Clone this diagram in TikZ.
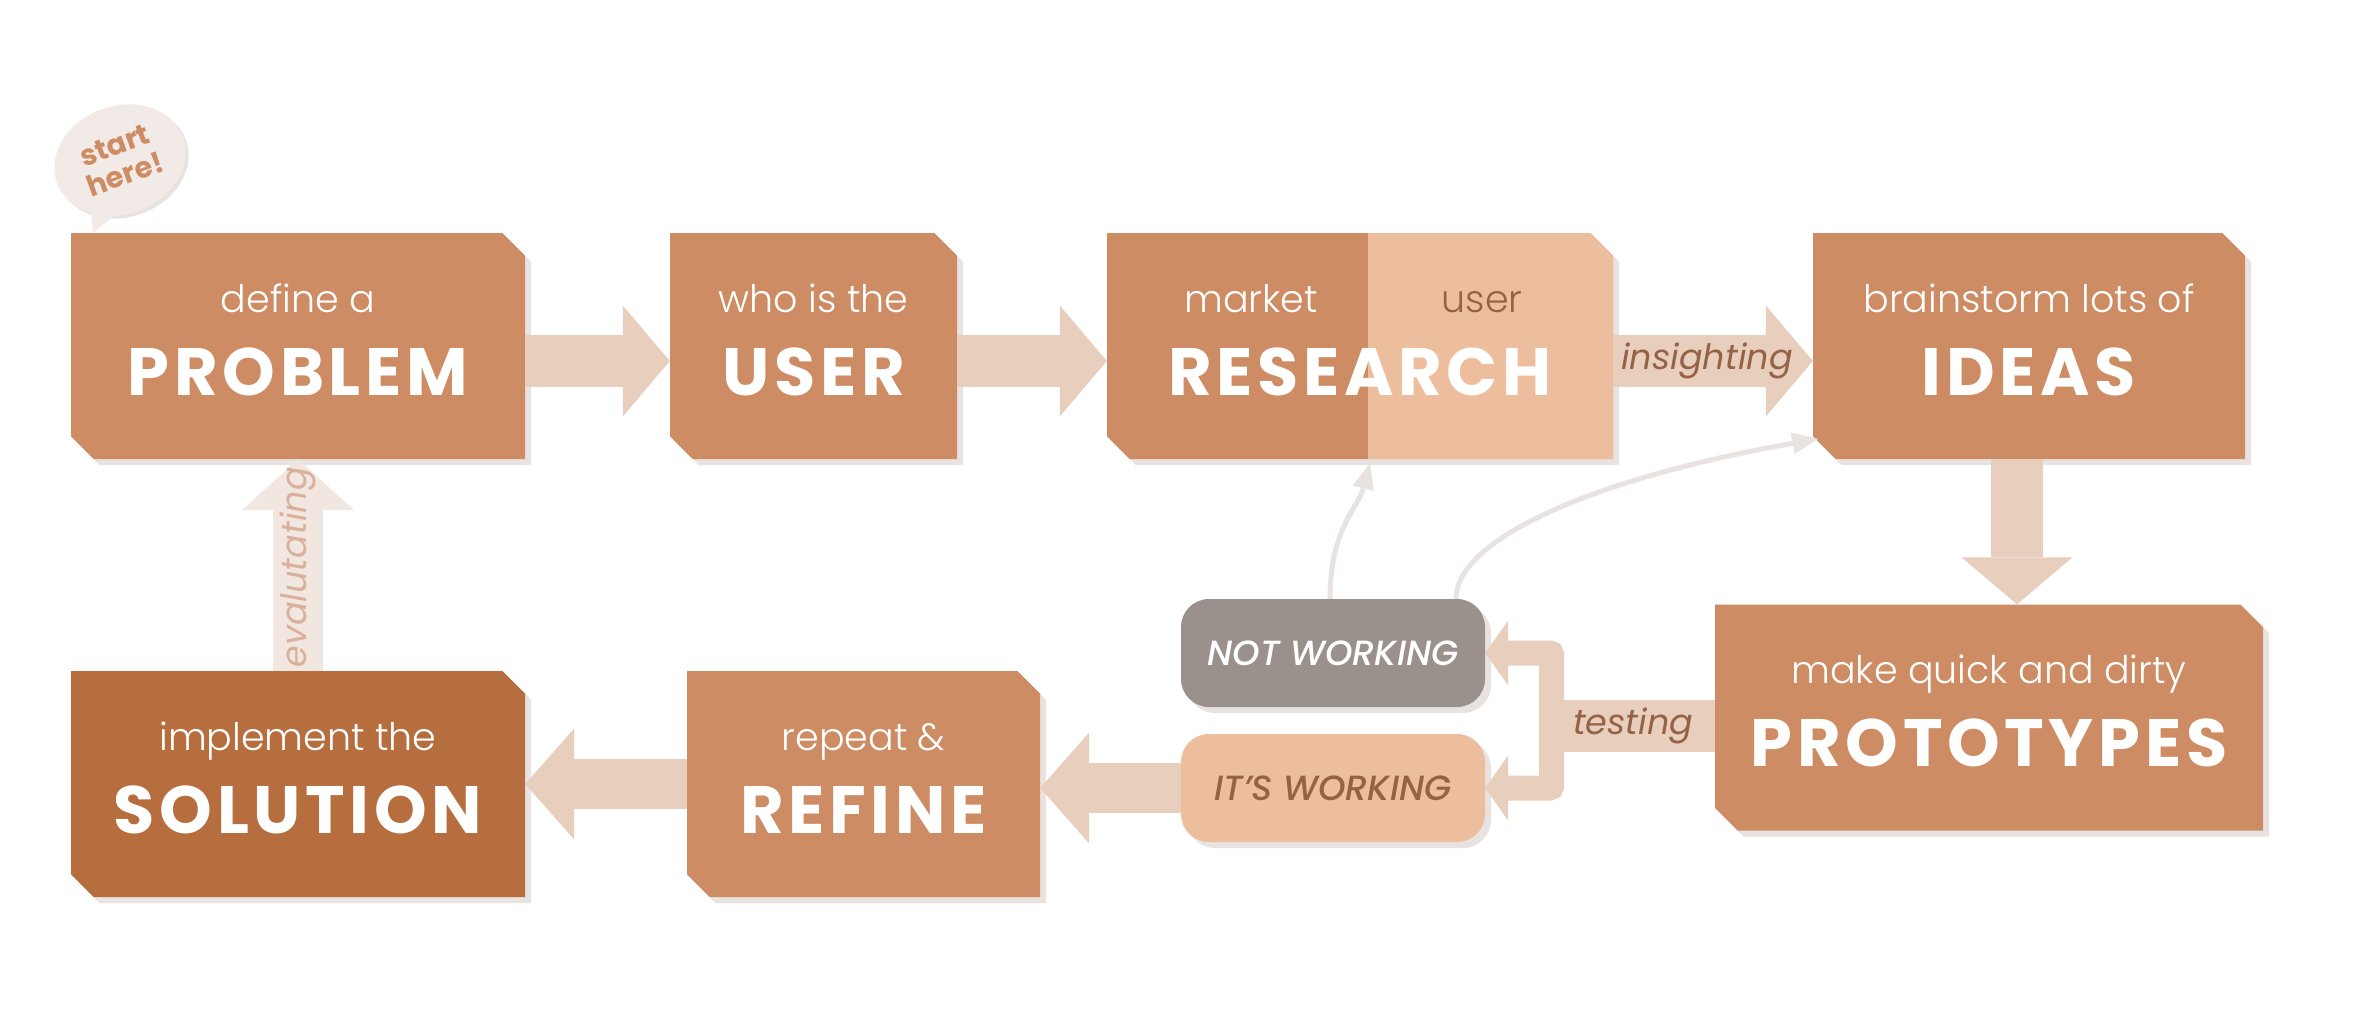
\documentclass[tikz,border=0pt]{standalone}
\usepackage{fontspec}
\setmainfont{Poppins}
\newfontfamily\lightfont{Poppins Light}
\newfontfamily\heavyfont{Poppins Bold}[LetterSpace=7]
\newfontfamily\bubblefont{Poppins Bold}
\newfontfamily\slantfont{Poppins Italic}
\newfontfamily\pillfont{Poppins Medium Italic}
\usetikzlibrary{shapes.misc,shapes.geometric,shadows,arrows.meta}
\definecolor{copper}{HTML}{CD8C63}
\definecolor{rust}{HTML}{B66E3E}
\definecolor{peach}{HTML}{ECBE9E}
\definecolor{arrowpeach}{HTML}{E8CEBD}
\definecolor{palepink}{HTML}{F2E6E1}
\definecolor{pillgrey}{HTML}{9A908C}
\definecolor{shadowgrey}{HTML}{E8E3E0}
\definecolor{darkbrown}{HTML}{966246}
\definecolor{evaltext}{HTML}{D9B09A}
\definecolor{bubblefill}{HTML}{F2EAE6}
\newcommand\boxtext[2]{{\lightfont\fontsize{38}{38}\selectfont\rule[-12pt]{0pt}{42pt}#1}\\{\heavyfont\fontsize{67}{67}\selectfont\rule[-15pt]{0pt}{85pt}#2}}

\begin{document}
\begin{tikzpicture}[x=1pt,y=-1pt,
    stepbox/.style={chamfered rectangle, chamfered rectangle corners={north east,south west},
      chamfered rectangle xsep=19pt, fill=copper, text=white, align=center, inner sep=0pt,
      minimum height=226pt, drop shadow={shadow xshift=6pt,shadow yshift=-6pt,fill=shadowgrey,opacity=1}},
    pill/.style={rectangle, rounded corners=28pt, minimum width=304pt, minimum height=108pt, inner sep=0pt,
      font=\pillfont\fontsize{35}{35}\selectfont,
      drop shadow={shadow xshift=6pt,shadow yshift=-6pt,fill=shadowgrey,opacity=1}},
    bubble/.style={ellipse, fill=bubblefill, minimum width=134pt, minimum height=108pt, inner sep=0pt,
      text=copper, align=center, font=\bubblefont\fontsize{29}{31}\selectfont,
      drop shadow={shadow xshift=3pt,shadow yshift=-3pt,fill=shadowgrey,opacity=1}},
    fatarrow/.style={draw=arrowpeach, line width=52pt, -{Triangle[length=47pt,width=111pt,line width=0pt]}},
    forkarm/.style={draw=arrowpeach, line width=25pt, rounded corners=2pt, -{Triangle[length=23pt,width=65pt,line width=0pt]}},
    thinarrow/.style={draw=shadowgrey, line width=5pt, -{Triangle[length=26pt,width=22pt,line width=0pt]}},
    flowlabel/.style={font=\slantfont\fontsize{35}{35}\selectfont, text=darkbrown}
  ]
\fill[white] (0,0) rectangle (2353,1020);
\useasboundingbox (0,0) rectangle (2353,1020);

\node[stepbox, minimum width=454pt] (problem) at (298,346) {\boxtext{define a}{PROBLEM}};
\node[stepbox, minimum width=287pt] (user) at (813.5,346) {\boxtext{who is the}{USER}};
\node[stepbox, minimum width=506pt,
  path picture={\fill[peach] ([xshift=8pt]path picture bounding box.north) rectangle (path picture bounding box.south east);}]
  (research) at (1360,346) {\boxtext{\makebox[244pt]{market}\makebox[218pt]{\color{darkbrown}user}}{RESEARCH}};
\node[stepbox, minimum width=432pt] (ideas) at (2029,346) {\boxtext{brainstorm lots of}{IDEAS}};
\node[stepbox, minimum width=548pt] (prototypes) at (1989,717.5) {\boxtext{make quick and dirty}{PROTOTYPES}};
\node[stepbox, minimum width=454pt, fill=rust] (solution) at (298,784) {\boxtext{implement the}{SOLUTION}};
\node[stepbox, minimum width=353pt] (refine) at (863.5,784) {\boxtext{repeat \&}{REFINE}};
\node[pill, fill=pillgrey, text=white] (notworking) at (1333,653) {NOT WORKING};
\node[pill, fill=peach, text=darkbrown] (itsworking) at (1333,788) {IT’S WORKING};

\node[bubble, rotate=20] (start) at (120,160) {start\\here!};
\fill[bubblefill] ([shift={(-30,38)}]start.center) -- ([shift={(22,0)}]problem.north west)
  -- ([shift={(4,48)}]start.center) -- cycle;

\draw[fatarrow] ([yshift=-15pt]problem.east) -- ([yshift=-15pt]user.west);
\draw[fatarrow] ([yshift=-15pt]user.east) -- ([yshift=-15pt]research.west);
\draw[fatarrow] ([yshift=-15pt]research.east) -- node[flowlabel, pos=0.47]{insighting} ([yshift=-15pt]ideas.west);
\draw[fatarrow] ([xshift=-12pt]ideas.south) -- ([xshift=-12pt]ideas.south |- prototypes.north);
\draw[fatarrow, line width=50pt, -{Triangle[length=49pt,width=111pt,line width=0pt]}]
  (itsworking.west) -- (itsworking.west -| refine.east);
\draw[fatarrow, line width=50pt, -{Triangle[length=49pt,width=111pt,line width=0pt]}]
  (refine.west) -- (solution.east);
\draw[fatarrow, draw=palepink, line width=50pt, -{Triangle[length=51pt,width=112pt,line width=0pt]}]
  (solution.north) -- node[rotate=90, font=\slantfont\fontsize{35}{35}\selectfont, text=evaltext, pos=0.49]{evalutating} (problem.south);

\coordinate (fork) at (1551.5,726);
\draw[draw=arrowpeach, line width=52pt] (prototypes.west |- fork) -- node[flowlabel]{testing} (fork);
\draw[forkarm] (fork) |- (notworking.east);
\draw[forkarm] (fork) |- (itsworking.east);

\draw[thinarrow] ([xshift=-3pt]notworking.north) .. controls +(0,-70) and +(-12,45) .. ([xshift=10pt,yshift=-4pt]research.south);
\draw[thinarrow] ([xshift=123pt]notworking.north) .. controls +(0,-59) and +(-227,40) .. ([xshift=-6pt,yshift=9pt]ideas.south west);
\end{tikzpicture}
\end{document}
